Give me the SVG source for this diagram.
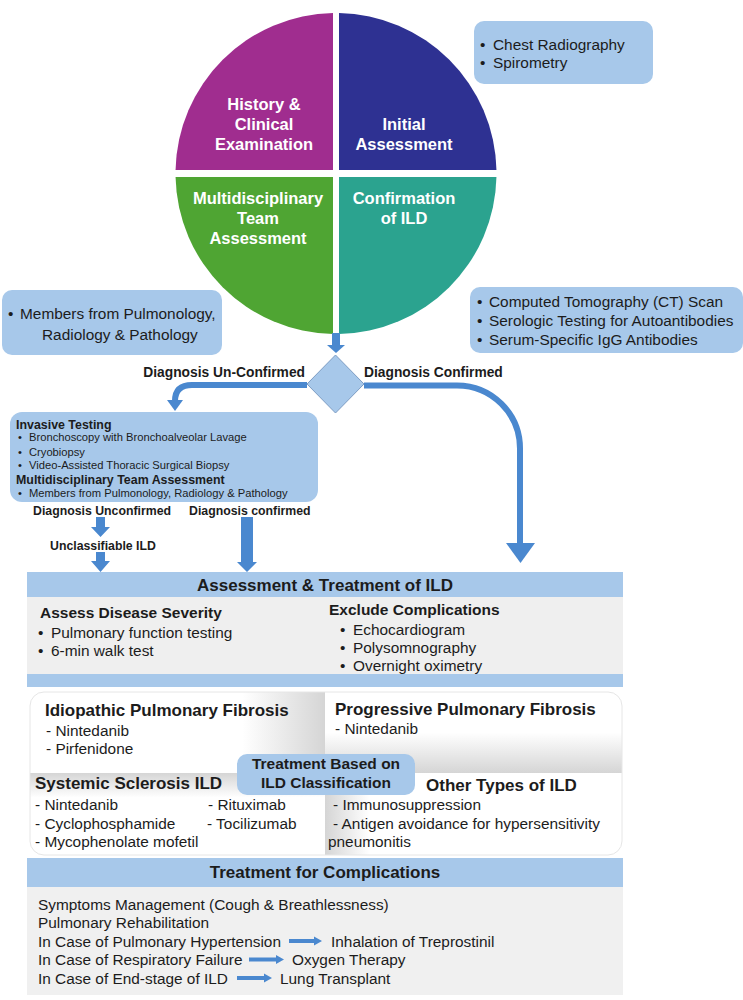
<svg xmlns="http://www.w3.org/2000/svg" width="743" height="1000" viewBox="0 0 743 1000">
<defs>
<style>
text{font-family:"Liberation Sans",Arial,Helvetica,sans-serif;fill:#1c1c1c}
.q{font-size:16.5px;font-weight:bold;fill:#ffffff;text-anchor:middle}
.b{font-size:15.4px}
.lbl{font-size:13.8px;font-weight:bold}
.sm{font-size:12.3px;font-weight:bold}
.inv{font-size:11.2px}
.invh{font-size:12.4px;font-weight:bold}
.h{font-size:17px;font-weight:bold}
.sub{font-size:15.5px;font-weight:bold}
.box{fill:#a7c8ea}
.arr{fill:#4a88cf}
.ln{fill:none;stroke:#4a88cf;stroke-width:6}
</style>
<linearGradient id="gTL" x1="0" y1="0" x2="1" y2="0"><stop offset="0" stop-color="#fff"/><stop offset="0.72" stop-color="#fff"/><stop offset="1" stop-color="#d5d5d5"/></linearGradient>
<linearGradient id="gTR" x1="0" y1="0" x2="0" y2="1"><stop offset="0" stop-color="#fff"/><stop offset="0.5" stop-color="#fff"/><stop offset="1" stop-color="#d5d5d5"/></linearGradient>
<linearGradient id="gBR" x1="1" y1="0" x2="0" y2="0"><stop offset="0" stop-color="#fff"/><stop offset="0.85" stop-color="#fff"/><stop offset="1" stop-color="#d5d5d5"/></linearGradient>
<linearGradient id="gBL" x1="0" y1="1" x2="0" y2="0"><stop offset="0" stop-color="#fff"/><stop offset="0.7" stop-color="#fff"/><stop offset="1" stop-color="#d5d5d5"/></linearGradient>
<clipPath id="cp"><rect x="30" y="692" width="592" height="163" rx="14"/></clipPath>
</defs>
<rect width="743" height="1000" fill="#ffffff"/>

<g id="cycle">
<path d="M333,170 H175.54 A160.5,160.5 0 0 1 333,13.03 Z" fill="#a02d8f"/>
<path d="M339,170 V13.03 A160.5,160.5 0 0 1 496.46,170 Z" fill="#2e3192"/>
<path d="M339,177 H496.46 A160.5,160.5 0 0 1 339,333.97 Z" fill="#2ba38f"/>
<path d="M333,177 V333.97 A160.5,160.5 0 0 1 175.54,177 Z" fill="#4fa533"/>
<text class="q" x="264" y="110">History &amp;</text>
<text class="q" x="264" y="130">Clinical</text>
<text class="q" x="264" y="150">Examination</text>
<text class="q" x="404" y="130">Initial</text>
<text class="q" x="404" y="150">Assessment</text>
<text class="q" x="258" y="204">Multidisciplinary</text>
<text class="q" x="258" y="224">Team</text>
<text class="q" x="258" y="244">Assessment</text>
<text class="q" x="404" y="204">Confirmation</text>
<text class="q" x="404" y="224">of ILD</text>
</g>

<g id="initial-box">
<rect class="box" x="474" y="21" width="179" height="63" rx="10"/>
<text class="b" x="480" y="50">•</text>
<text class="b" x="493" y="50">Chest Radiography</text>
<text class="b" x="480" y="67.5">•</text>
<text class="b" x="493" y="67.5">Spirometry</text>
</g>

<g id="mdt-box">
<rect class="box" x="2" y="290" width="220" height="65" rx="10"/>
<text class="b" x="8" y="319">•</text>
<text class="b" x="20" y="319">Members from Pulmonology,</text>
<text class="b" x="42" y="340">Radiology &amp; Pathology</text>
</g>

<g id="confirm-box">
<rect class="box" x="470" y="287" width="273" height="66" rx="10"/>
<text class="b" x="477" y="307">•</text>
<text class="b" x="489" y="307">Computed Tomography (CT) Scan</text>
<text class="b" x="477" y="326">•</text>
<text class="b" x="489" y="326">Serologic Testing for Autoantibodies</text>
<text class="b" x="477" y="345">•</text>
<text class="b" x="489" y="345">Serum-Specific IgG Antibodies</text>
</g>

<g id="decision">
<polygon points="335.5,355 364,384 335.5,413 307,384" fill="#a7c8ea" stroke="#7d9dc4" stroke-width="1"/>
</g>

<g id="connectors">
<path class="arr" d="M332,333 H340 V345 H345 L336,353 L327,345 H332 Z"/>
<path class="ln" d="M307,385 H192 Q175,385 175,401"/>
<polygon class="arr" points="167,400 183,400 175,411"/>
<path class="ln" d="M364,385.5 H457 A63,63 0 0 1 520,448.5 V545"/>
<polygon class="arr" points="506,543 535,543 520.5,563"/>
<path class="arr" d="M96,517 H105 V527 H110 L100.5,537 L91,527 H96 Z"/>
<path class="arr" d="M96,552 H105 V561 H110 L100.5,572 L91,561 H96 Z"/>
<path class="arr" d="M241,517 H253 V562 H257 L247,572 L237,562 H241 Z"/>
</g>

<g id="labels">
<text class="lbl" x="305" y="377" text-anchor="end">Diagnosis Un-Confirmed</text>
<text class="lbl" x="364" y="377">Diagnosis Confirmed</text>
<text class="sm" x="33" y="514.5">Diagnosis Unconfirmed</text>
<text class="sm" x="189" y="515">Diagnosis confirmed</text>
<text class="sm" x="50" y="550">Unclassifiable ILD</text>
</g>

<g id="invasive-box">
<rect class="box" x="10" y="412" width="308" height="90" rx="12"/>
<text class="invh" x="16" y="428.5">Invasive Testing</text>
<text class="inv" x="18" y="441.3">•</text>
<text class="inv" x="29" y="441.3">Bronchoscopy with Bronchoalveolar Lavage</text>
<text class="inv" x="18" y="455.7">•</text>
<text class="inv" x="29" y="455.7">Cryobiopsy</text>
<text class="inv" x="18" y="469">•</text>
<text class="inv" x="29" y="469">Video-Assisted Thoracic Surgical Biopsy</text>
<text class="invh" x="16" y="483.5">Multidisciplinary Team Assessment</text>
<text class="inv" x="18" y="497.3">•</text>
<text class="inv" x="29" y="497.3">Members from Pulmonology, Radiology &amp; Pathology</text>
</g>

<g id="assessment">
<rect class="box" x="27" y="572" width="596" height="25"/>
<rect x="27" y="597" width="596" height="77" fill="#efefef"/>
<rect class="box" x="27" y="674" width="596" height="13"/>
<text class="h" x="325" y="591" text-anchor="middle">Assessment &amp; Treatment of ILD</text>
<text class="sub" x="40" y="618">Assess Disease Severity</text>
<text class="b" x="38" y="637.5">•</text>
<text class="b" x="51" y="637.5">Pulmonary function testing</text>
<text class="b" x="38" y="655.5">•</text>
<text class="b" x="51" y="655.5">6-min walk test</text>
<text class="sub" x="329" y="615">Exclude Complications</text>
<text class="b" x="340" y="634.5">•</text>
<text class="b" x="353" y="634.5">Echocardiogram</text>
<text class="b" x="340" y="653">•</text>
<text class="b" x="353" y="653">Polysomnography</text>
<text class="b" x="340" y="671">•</text>
<text class="b" x="353" y="671">Overnight oximetry</text>
</g>

<g id="classification">
<g clip-path="url(#cp)">
<rect x="30" y="692" width="295" height="81" fill="url(#gTL)"/>
<rect x="325" y="692" width="297" height="81" fill="url(#gTR)"/>
<rect x="325" y="773" width="297" height="82" fill="url(#gBR)"/>
<rect x="30" y="773" width="295" height="82" fill="url(#gBL)"/>
</g>
<rect x="30" y="692" width="592" height="163" rx="14" fill="none" stroke="#e6e6e6" stroke-width="1"/>
<text class="h" x="45" y="716">Idiopathic Pulmonary Fibrosis</text>
<text class="b" x="46" y="735.5">- Nintedanib</text>
<text class="b" x="46" y="753.5">- Pirfenidone</text>
<text class="h" x="335" y="715">Progressive Pulmonary Fibrosis</text>
<text class="b" x="335" y="733.5">- Nintedanib</text>
<text class="h" x="35" y="789">Systemic Sclerosis ILD</text>
<text class="b" x="35" y="809.5">- Nintedanib</text>
<text class="b" x="35" y="828.5">- Cyclophosphamide</text>
<text class="b" x="35" y="847">- Mycophenolate mofetil</text>
<text class="b" x="208" y="809.5">- Rituximab</text>
<text class="b" x="207" y="828.5">- Tocilizumab</text>
<text class="h" x="426" y="791">Other Types of ILD</text>
<text class="b" x="333" y="809.5"> - Immunosuppression</text>
<text class="b" x="333" y="828.5">- Antigen avoidance for hypersensitivity</text>
<text class="b" x="328" y="846.5">pneumonitis</text>
<rect class="box" x="237" y="754" width="178" height="41" rx="10"/>
<text class="sub" x="326" y="768.5" text-anchor="middle">Treatment Based on</text>
<text class="sub" x="326" y="787.5" text-anchor="middle">ILD Classification</text>
</g>

<g id="complications">
<rect class="box" x="27" y="858" width="596" height="29"/>
<rect x="27" y="887" width="596" height="108" fill="#f0f0f0"/>
<text class="h" x="325" y="878" text-anchor="middle">Treatment for Complications</text>
<text class="b" x="38" y="909.5">Symptoms Management (Cough &amp; Breathlessness)</text>
<text class="b" x="38" y="928">Pulmonary Rehabilitation</text>
<text class="b" x="38" y="946.5">In Case of Pulmonary Hypertension</text>
<path class="arr" d="M289,939 H314 V936.5 L322,941 L314,945.5 V943 H289 Z"/>
<text class="b" x="331" y="946.5">Inhalation of Treprostinil</text>
<text class="b" x="38" y="965">In Case of Respiratory Failure</text>
<path class="arr" d="M249,957.5 H276 V955 L284,959.5 L276,964 V961.5 H249 Z"/>
<text class="b" x="292" y="965">Oxygen Therapy</text>
<text class="b" x="38" y="983.5">In Case of End-stage of ILD</text>
<path class="arr" d="M237,976 H264 V973.5 L272,978 L264,982.5 V980 H237 Z"/>
<text class="b" x="280" y="983.5">Lung Transplant</text>
</g>
</svg>
